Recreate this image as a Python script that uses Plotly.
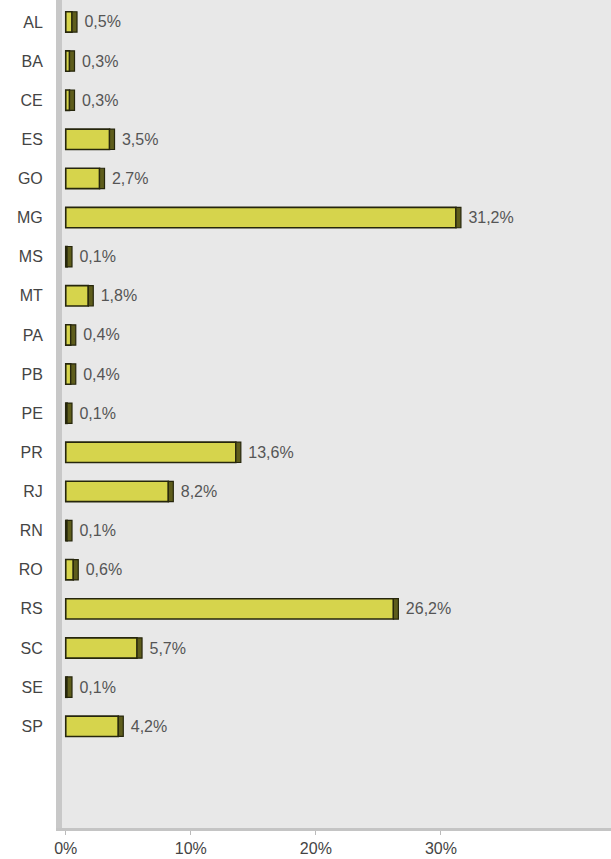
import plotly.graph_objects as go

states = ["AL", "BA", "CE", "ES", "GO", "MG", "MS", "MT", "PA", "PB",
          "PE", "PR", "RJ", "RN", "RO", "RS", "SC", "SE", "SP"]
values = [0.5, 0.3, 0.3, 3.5, 2.7, 31.2, 0.1, 1.8, 0.4, 0.4,
          0.1, 13.6, 8.2, 0.1, 0.6, 26.2, 5.7, 0.1, 4.2]
x_ticks = [0, 10, 20, 30]
x_tick_labels = ["0%", "10%", "20%", "30%"]

labels = [" " + f"{v:.1f}%".replace(".", ",") for v in values]
cap = 0.4

fig = go.Figure()
fig.add_trace(go.Bar(
    y=states, x=values, orientation="h", width=0.52,
    marker=dict(color="#d6d44c", line=dict(color="#26260c", width=1.6)),
    hoverinfo="skip", showlegend=False,
))
fig.add_trace(go.Bar(
    y=states, x=[cap] * len(values), base=values, orientation="h", width=0.52,
    marker=dict(color="#5e5d1c", line=dict(color="#26260c", width=1.2)),
    text=labels, textposition="outside", cliponaxis=False,
    textfont=dict(color="#555555", size=16, family="Liberation Sans, Arial"),
    hoverinfo="skip", showlegend=False,
))

fig.update_layout(
    width=611, height=859,
    margin=dict(l=62, r=0, t=0, b=31),
    paper_bgcolor="white", plot_bgcolor="#e8e8e8",
    barmode="overlay",
    font=dict(family="Liberation Sans, Arial", size=16, color="#444444"),
    xaxis=dict(range=[-0.3, 43.6], tickvals=x_ticks, ticktext=x_tick_labels,
               showgrid=False, zeroline=False, showline=True,
               linecolor="#c4c4c4", linewidth=3, ticks="outside",
               ticklen=4, tickcolor="#bbbbbb",
               tickfont=dict(size=16, color="#444444")),
    yaxis=dict(range=[20.6, -0.56], categoryorder="array", categoryarray=states,
               showgrid=False, zeroline=False, showline=True,
               linecolor="#c8c8c8", linewidth=6, ticks="",
               ticklabelstandoff=10,
               tickfont=dict(size=16, color="#444444")),
)

fig.write_html("out.html", config={"displayModeBar": False},
               post_script="document.body.style.margin='0';document.body.style.overflow='hidden';")
